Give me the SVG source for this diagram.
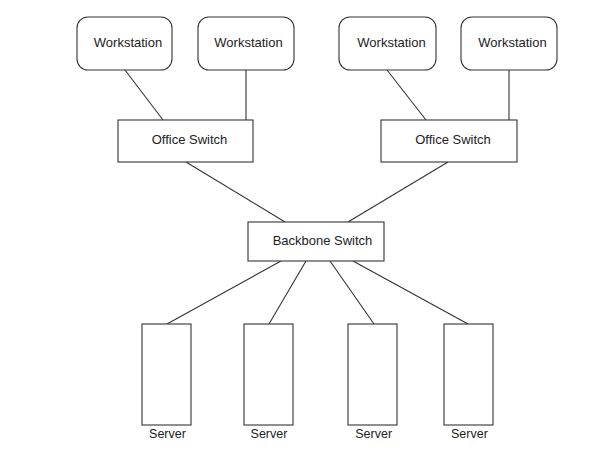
<svg xmlns="http://www.w3.org/2000/svg" width="600" height="463" viewBox="0 0 600 463">
<style>
.box{fill:#fff;stroke:#333;stroke-width:1.1}
.ln{stroke:#333;stroke-width:1.1;fill:none}
text{font-family:"Liberation Sans",Arial,sans-serif;font-size:13px;fill:#222;text-anchor:middle}
.sv{font-size:12.5px}
</style>
<rect width="600" height="463" fill="#fff"/>
<g id="connectors">
<line class="ln" x1="125" y1="70" x2="163" y2="120"/>
<line class="ln" x1="246" y1="70" x2="246" y2="120"/>
<line class="ln" x1="387" y1="70" x2="426" y2="120"/>
<line class="ln" x1="509" y1="70" x2="509" y2="120"/>
<line class="ln" x1="186" y1="162" x2="285" y2="222"/>
<line class="ln" x1="448" y1="162" x2="348" y2="222"/>
<line class="ln" x1="281" y1="261" x2="167" y2="324"/>
<line class="ln" x1="306" y1="261" x2="269" y2="324"/>
<line class="ln" x1="330" y1="261" x2="374" y2="324"/>
<line class="ln" x1="353" y1="261" x2="468" y2="324"/>
</g>
<g id="ws1"><rect class="box" x="77" y="17" width="95" height="53" rx="11"/><text x="128" y="47">Workstation</text></g>
<g id="ws2"><rect class="box" x="198" y="17" width="96" height="53" rx="11"/><text x="248.5" y="47">Workstation</text></g>
<g id="ws3"><rect class="box" x="339" y="17" width="97" height="53" rx="11"/><text x="391.5" y="47">Workstation</text></g>
<g id="ws4"><rect class="box" x="461" y="17" width="96" height="53" rx="11"/><text x="512.5" y="47">Workstation</text></g>
<g id="office1"><rect class="box" x="118" y="120" width="135" height="42"/><text x="189.5" y="144">Office Switch</text></g>
<g id="office2"><rect class="box" x="381" y="120" width="136" height="42"/><text x="453" y="144">Office Switch</text></g>
<g id="backbone"><rect class="box" x="248" y="222" width="136" height="39"/><text x="322.5" y="245">Backbone Switch</text></g>
<g id="server1"><rect class="box" x="142" y="324" width="49" height="101"/><text class="sv" x="167.5" y="438">Server</text></g>
<g id="server2"><rect class="box" x="244" y="324" width="49" height="101"/><text class="sv" x="269" y="438">Server</text></g>
<g id="server3"><rect class="box" x="348" y="324" width="49" height="101"/><text class="sv" x="373.7" y="438">Server</text></g>
<g id="server4"><rect class="box" x="444" y="324" width="49" height="101"/><text class="sv" x="469.4" y="438">Server</text></g>
</svg>
